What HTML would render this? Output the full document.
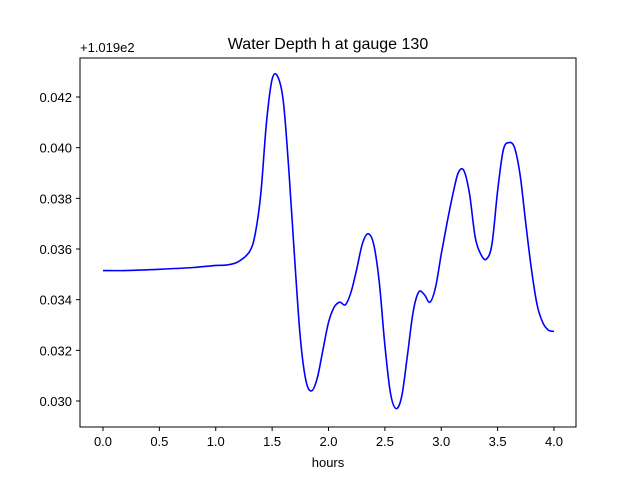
<!DOCTYPE html>
<html><head><meta charset="utf-8"><style>
body{margin:0;background:#fff;}
svg{display:block;font-family:"Liberation Sans","DejaVu Sans",sans-serif;}
</style></head><body>
<svg id="chart" width="640" height="480">
<rect x="0" y="0" width="640" height="480" fill="#fff"/>
<text x="328" y="49" text-anchor="middle" font-size="16">Water Depth h at gauge 130</text>
<text x="80" y="52" font-size="13">+1.019e2</text>
<text x="328" y="467" text-anchor="middle" font-size="13">hours</text>
<g id="ticks"></g>
<path id="line" fill="none" stroke="#0000ff" stroke-width="1.6"/>
<rect x="80" y="58" width="496" height="369" fill="none" stroke="#000" stroke-width="1"/>
</svg>
<script>
const hours=[0,0.2,0.5,0.8,1.0,1.1,1.2,1.3,1.35,1.4,1.45,1.5,1.55,1.6,1.65,1.7,1.75,1.8,1.85,1.9,1.95,2.0,2.05,2.1,2.15,2.2,2.25,2.3,2.35,2.4,2.45,2.5,2.55,2.6,2.65,2.7,2.75,2.8,2.85,2.9,2.95,3.0,3.05,3.1,3.15,3.2,3.25,3.3,3.35,3.4,3.45,3.5,3.55,3.6,3.65,3.7,3.75,3.8,3.85,3.9,3.95,4.0];
const depth=[0.03515,0.03515,0.0352,0.03527,0.03535,0.03537,0.0355,0.0359,0.0366,0.0382,0.0410,0.0427,0.0428,0.0418,0.0390,0.0356,0.0325,0.0308,0.0304,0.0309,0.0320,0.0331,0.0337,0.0339,0.0338,0.0343,0.0352,0.0362,0.0366,0.0362,0.0347,0.0322,0.0303,0.0297,0.0302,0.0318,0.0335,0.0343,0.0342,0.0339,0.0345,0.0358,0.0370,0.0381,0.0390,0.0391,0.0382,0.0365,0.0358,0.0356,0.0362,0.0383,0.0399,0.0402,0.0400,0.0389,0.0370,0.0352,0.0338,0.0331,0.0328,0.03275];
const xTicks=[0,0.5,1.0,1.5,2.0,2.5,3.0,3.5,4.0];
const xTickLabels=["0.0","0.5","1.0","1.5","2.0","2.5","3.0","3.5","4.0"];
const yTicks=[0.030,0.032,0.034,0.036,0.038,0.040,0.042];
const yTickLabels=["0.030","0.032","0.034","0.036","0.038","0.040","0.042"];
const sx=v=>103+v*112.75;
const sy=v=>401-(v-0.030)*25333;
const NS="http://www.w3.org/2000/svg";
const g=document.getElementById('ticks');
function mk(t,a){const e=document.createElementNS(NS,t);for(const k in a)e.setAttribute(k,a[k]);return e;}
xTicks.forEach((v,i)=>{
  const l=mk('line',{x1:sx(v),x2:sx(v),y1:427,y2:431,stroke:'#000'});
  
  
  g.appendChild(l);
  const t=mk('text',{x:sx(v),y:446,'text-anchor':'middle','font-size':13});
  
  
  t.textContent=xTickLabels[i];g.appendChild(t);
});
yTicks.forEach((v,i)=>{
  const l=mk('line',{x1:76,x2:80,y1:sy(v),y2:sy(v),stroke:'#000'});
  
  
  g.appendChild(l);
  const t=mk('text',{x:72,y:sy(v)+5,'text-anchor':'end','font-size':13});
  
  
  t.textContent=yTickLabels[i];g.appendChild(t);
});
const P=hours.map((h,i)=>[sx(h),sy(depth[i])]);
let d='M'+P[0][0]+','+P[0][1];
for(let i=0;i<P.length-1;i++){
  const p0=P[Math.max(0,i-1)],p1=P[i],p2=P[i+1],p3=P[Math.min(P.length-1,i+2)];
  const c1=[p1[0]+(p2[0]-p0[0])/6,p1[1]+(p2[1]-p0[1])/6];
  const c2=[p2[0]-(p3[0]-p1[0])/6,p2[1]-(p3[1]-p1[1])/6];
  d+=` C${c1[0]},${c1[1]} ${c2[0]},${c2[1]} ${p2[0]},${p2[1]}`;
}
document.getElementById('line').setAttribute('d',d);
</script>
</body></html>
